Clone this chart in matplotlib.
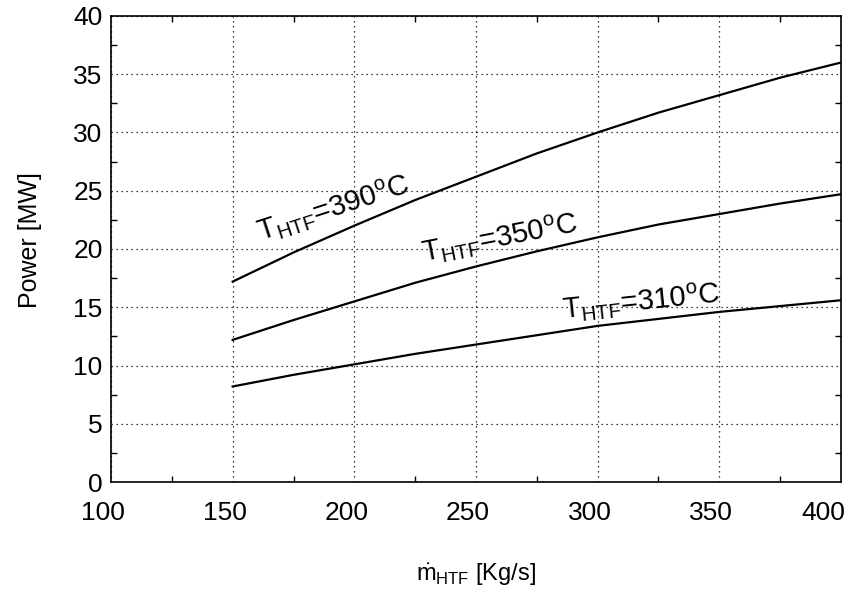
import matplotlib
matplotlib.use("Agg")
import matplotlib.pyplot as plt
import matplotlib.transforms as mtransforms
import numpy as np

plt.rcParams['font.family'] = ['Liberation Sans', 'DejaVu Sans']
plt.rcParams['mathtext.fontset'] = 'custom'
plt.rcParams['mathtext.rm'] = 'Liberation Sans'
plt.rcParams['mathtext.it'] = 'Liberation Sans:italic'
plt.rcParams['mathtext.bf'] = 'Liberation Sans:bold'

# Data
mass_flow = [150, 175, 200, 225, 250, 275, 300, 325, 350, 375, 400]
power_390 = [17.2, 19.7, 22.0, 24.2, 26.2, 28.2, 30.0, 31.7, 33.2, 34.7, 36.0]
power_350 = [12.2, 13.9, 15.5, 17.1, 18.5, 19.8, 21.0, 22.1, 23.0, 23.9, 24.7]
power_310 = [8.2, 9.2, 10.1, 11.0, 11.8, 12.6, 13.4, 14.0, 14.6, 15.1, 15.6]
x_ticks = [100, 150, 200, 250, 300, 350, 400]
y_ticks = [0, 5, 10, 15, 20, 25, 30, 35, 40]

fig = plt.figure(figsize=(8.5, 5.9), dpi=100)
ax = fig.add_axes([0.1306, 0.183, 0.8588, 0.790])

for p in (power_390, power_350, power_310):
    ax.plot(mass_flow, p, color='black', lw=1.6)

ax.set_xlim(100, 400)
ax.set_ylim(0, 40)
ax.set_xticks(x_ticks)
ax.set_yticks(y_ticks)
ax.set_xticks(np.arange(125, 400, 50), minor=True)
ax.set_yticks(np.arange(2.5, 40, 5), minor=True)
ax.tick_params(which='major', length=0, labelsize=19)
ax.tick_params(axis='x', which='major', pad=14)
ax.tick_params(axis='y', which='major', pad=6)
ax.tick_params(which='minor', direction='in', length=4, width=1,
               top=True, right=True)
ax.grid(True, which='major', linestyle=(0, (1, 3)), color='black', lw=0.9)
for s in ax.spines.values():
    s.set_linewidth(1.2)

xlabels = ax.get_xticklabels()
for i, lbl in enumerate(xlabels):
    dx = -18 if i == len(xlabels) - 1 else -8
    shift = mtransforms.ScaledTranslation(dx / 100, 0, fig.dpi_scale_trans)
    lbl.set_transform(lbl.get_transform() + shift)

ax.text(191.6, 23.5, r'T$_{\rm HTF}$=390$^{\rm o}$C', fontsize=21,
        rotation=18, ha='center', va='center', rotation_mode='anchor')
ax.text(259.9, 20.9, r'T$_{\rm HTF}$=350$^{\rm o}$C', fontsize=21,
        rotation=11, ha='center', va='center', rotation_mode='anchor')
ax.text(318, 15.45, r'T$_{\rm HTF}$=310$^{\rm o}$C', fontsize=21,
        rotation=6, ha='center', va='center', rotation_mode='anchor')

ax.set_ylabel('Power [MW]', fontsize=18)
ax.yaxis.set_label_coords(-0.111, 0.519)
ax.yaxis.label.set_va('center')
ax.set_xlabel(r'$\dot{\rm m}_{\rm HTF}$ [Kg/s]', fontsize=17, labelpad=26)

fig.savefig('out.png', dpi=100)
